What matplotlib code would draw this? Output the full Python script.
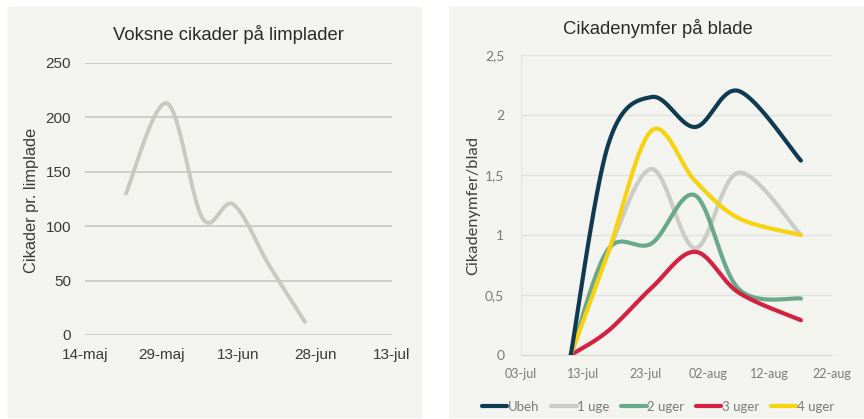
import numpy as np
import matplotlib
matplotlib.use("Agg")
import matplotlib.pyplot as plt
import matplotlib.dates as mdates
from matplotlib.patches import Rectangle
from datetime import date

# Voksne cikader paa limplader
lim_dates = [date(2023, 5, 22), date(2023, 5, 30), date(2023, 6, 6),
             date(2023, 6, 12), date(2023, 6, 19), date(2023, 6, 26)]
lim_values = [130, 213, 107, 120, 64, 12]

# Cikadenymfer paa blade
blad_dates = [date(2023, 7, 11), date(2023, 7, 17), date(2023, 7, 24),
              date(2023, 7, 31), date(2023, 8, 7), date(2023, 8, 17)]
ubeh = [0, 1.75, 2.15, 1.9, 2.2, 1.62]
uge1 = [0, 0.85, 1.55, 0.89, 1.52, 1.0]
uger2 = [0, 0.88, 0.93, 1.33, 0.55, 0.47]
uger3 = [0, 0.2, 0.56, 0.86, 0.52, 0.29]
uger4 = [0, 0.85, 1.87, 1.45, 1.14, 1.0]
series_names = ["Ubeh", "1 uge", "2 uger", "3 uger", "4 uger"]
series_colors = ["#0f3b50", "#cbcbc7", "#6aa88c", "#d4213f", "#f6d20f"]


def smooth(xs, ys, n=40):
    # bezier smoothing like the "smoothed line" option in spreadsheets
    p = np.column_stack([xs, ys]).astype(float)
    ext = np.vstack([p[0], p, p[-1]])
    out = []
    t = np.linspace(0, 1, n)[:, None]
    for i in range(len(p) - 1):
        p0, p3 = ext[i + 1], ext[i + 2]
        c1 = p0 + (ext[i + 2] - ext[i]) / 6
        c2 = p3 - (ext[i + 3] - ext[i + 1]) / 6
        seg = ((1 - t) ** 3) * p0 + 3 * ((1 - t) ** 2) * t * c1 + 3 * (1 - t) * t ** 2 * c2 + t ** 3 * p3
        out.append(seg)
    out = np.vstack(out)
    return out[:, 0], out[:, 1]


W, H = 864, 419
fig = plt.figure(figsize=(W / 100, H / 100), dpi=100)
fig.patch.set_facecolor("white")

panel = "#f3f3ef"
fig.patches.append(Rectangle((8 / W, 1 - 417 / H), 413 / W, 410 / H,
                             transform=fig.transFigure, color=panel, zorder=-5))
fig.patches.append(Rectangle((449 / W, 1 - 417 / H), 415 / W, 410 / H,
                             transform=fig.transFigure, color=panel, zorder=-5))

# left chart
ax1 = fig.add_axes([85 / W, 1 - 335 / H, 307 / W, 272 / H])
ax1.set_facecolor("none")
x1 = mdates.date2num(lim_dates)
sx, sy = smooth(x1, lim_values)
ax1.plot(sx, sy, color="#c8c9c2", lw=2.8, solid_capstyle="round", zorder=3)
ax1.set_xlim(mdates.date2num(date(2023, 5, 14)), mdates.date2num(date(2023, 7, 13)))
ax1.set_ylim(0, 250)
ax1.set_yticks(np.arange(0, 251, 50))
xt1 = [date(2023, 5, 14), date(2023, 5, 29), date(2023, 6, 13), date(2023, 6, 28), date(2023, 7, 13)]
ax1.set_xticks(mdates.date2num(xt1))
ax1.set_xticklabels(["14-maj", "29-maj", "13-jun", "28-jun", "13-jul"])
ax1.grid(axis="y", color="#c6c6c4", lw=1.2)
ax1.set_axisbelow(True)
for s in ax1.spines.values():
    s.set_visible(False)
ax1.tick_params(length=0, labelsize=11, labelcolor="#3a3a3a", pad=10)
ax1.tick_params(axis="x", pad=9)
for lab in ax1.get_xticklabels() + ax1.get_yticklabels():
    lab.set_family("Liberation Sans")
fig.text(32 / W, 1 - 200 / H, "Cikader pr. limplade", rotation=90, ha="center", va="center",
         fontsize=11.8, color="#3a3a3a", family="Liberation Sans")
fig.text(228 / W, 1 - 34 / H, "Voksne cikader på limplader", ha="center", va="center",
         fontsize=13.3, color="#2a2a2a", family="Liberation Sans")

# right chart
ax2 = fig.add_axes([521 / W, 1 - 355 / H, 311 / W, 300 / H])
ax2.set_facecolor("none")
x2 = mdates.date2num(blad_dates)
lines = []
for vals, name, col in zip([ubeh, uge1, uger2, uger3, uger4], series_names, series_colors):
    sx, sy = smooth(x2, vals)
    ln, = ax2.plot(sx, sy, color=col, lw=3, solid_capstyle="round", label=name)
    lines.append(ln)
# draw order: darker series on top
for ln, z in zip(lines, [6, 2, 3, 4, 5]):
    ln.set_zorder(z)
ax2.set_xlim(mdates.date2num(date(2023, 7, 3)), mdates.date2num(date(2023, 8, 22)))
ax2.set_ylim(0, 2.5)
ax2.set_yticks(np.arange(0, 2.51, 0.5))
ax2.set_yticklabels(["0", "0,5", "1", "1,5", "2", "2,5"])
xt2 = [date(2023, 7, 3), date(2023, 7, 13), date(2023, 7, 23), date(2023, 8, 2),
       date(2023, 8, 12), date(2023, 8, 22)]
ax2.set_xticks(mdates.date2num(xt2))
ax2.set_xticklabels(["03-jul", "13-jul", "23-jul", "02-aug", "12-aug", "22-aug"])
ax2.grid(axis="y", color="#e2e2de", lw=1)
ax2.set_axisbelow(True)
for k in ["top", "right"]:
    ax2.spines[k].set_visible(False)
ax2.spines["left"].set_color("#e2e2de")
ax2.spines["bottom"].set_color("#d6d6d2")
ax2.tick_params(length=0, labelsize=9, labelcolor="#7a7a7a")
ax2.tick_params(axis="y", pad=12, labelsize=10)
ax2.tick_params(axis="x", pad=9)
for lab in ax2.get_xticklabels() + ax2.get_yticklabels():
    lab.set_family("Lato")
fig.text(473 / W, 1 - 205 / H, "Cikadenymfer/blad", rotation=90, ha="center", va="center",
         fontsize=11.8, color="#3f3f3f", family="Lato")
fig.text(658 / W, 1 - 28 / H, "Cikadenymfer på blade", ha="center", va="center",
         fontsize=13.3, color="#2a2a2a", family="Liberation Sans")
leg = fig.legend(handles=lines, loc="center", bbox_to_anchor=(658 / W, 1 - 407 / H), ncol=5,
                 frameon=False, handlelength=1.9, handletextpad=0.05,
                 columnspacing=0.9, labelcolor="#7a7a7a", prop={"family": "Lato", "size": 9.5})

fig.savefig("out.png", dpi=100, facecolor="white")
